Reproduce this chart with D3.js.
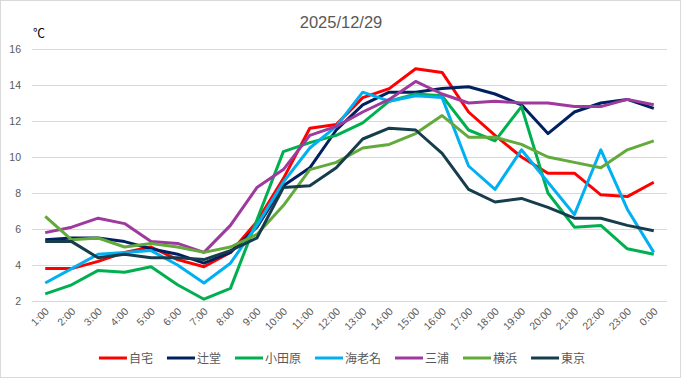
<!DOCTYPE html>
<html>
<head>
<meta charset="utf-8">
<script src="https://cdn.jsdelivr.net/npm/d3@7"></script>
<style>
  html, body { margin: 0; padding: 0; background: #fff; }
  text { font-family: "Liberation Sans", "Noto Sans CJK JP", sans-serif; }
</style>
</head>
<body>
<div id="chart"></div>
<script>
var w = 681, h = 378;

var hours = ["1:00","2:00","3:00","4:00","5:00","6:00","7:00","8:00","9:00","10:00","11:00","12:00",
             "13:00","14:00","15:00","16:00","17:00","18:00","19:00","20:00","21:00","22:00","23:00","0:00"];
var yTicks = [2, 4, 6, 8, 10, 12, 14, 16];

var seriesNames = ["自宅", "辻堂", "小田原", "海老名", "三浦", "横浜", "東京"];

var jitaku    = [3.8, 3.8, 4.2, 4.7, 5.0, 4.3, 3.9, 4.7, 6.4, 8.8, 11.6, 11.8, 13.3, 13.8, 14.9, 14.7, 12.5, 11.2, 10.0, 9.1, 9.1, 7.9, 7.8, 8.6];
var tsujido   = [5.4, 5.5, 5.5, 5.3, 4.9, 4.6, 4.1, 4.7, 6.1, 8.4, 9.4, 11.5, 12.9, 13.6, 13.6, 13.8, 13.9, 13.5, 12.9, 11.3, 12.5, 13.0, 13.2, 12.7];
var odawara   = [2.4, 2.9, 3.7, 3.6, 3.9, 2.9, 2.1, 2.7, 6.5, 10.3, 10.8, 11.2, 11.9, 13.1, 13.5, 13.4, 11.5, 10.9, 12.8, 8.0, 6.1, 6.2, 4.9, 4.6];
var ebina     = [3.0, 3.8, 4.6, 4.7, 4.8, 4.0, 3.0, 4.1, 6.2, 8.6, 10.5, 11.7, 13.6, 13.1, 13.4, 13.3, 9.5, 8.2, 10.4, 8.6, 6.8, 10.4, 7.1, 4.7];
var miura     = [5.8, 6.1, 6.6, 6.3, 5.3, 5.2, 4.7, 6.2, 8.3, 9.3, 11.2, 11.7, 12.5, 13.2, 14.2, 13.5, 13.0, 13.1, 13.0, 13.0, 12.8, 12.8, 13.2, 12.9];
var yokohama  = [6.7, 5.4, 5.5, 5.0, 5.2, 5.0, 4.7, 5.0, 5.7, 7.3, 9.3, 9.7, 10.5, 10.7, 11.3, 12.3, 11.1, 11.1, 10.7, 10.0, 9.7, 9.4, 10.4, 10.9];
var tokyo     = [5.3, 5.3, 4.4, 4.6, 4.4, 4.4, 4.3, 4.8, 5.5, 8.3, 8.4, 9.4, 11.0, 11.6, 11.5, 10.2, 8.2, 7.5, 7.7, 7.2, 6.6, 6.6, 6.2, 5.9];

var seriesValues = [jitaku, tsujido, odawara, ebina, miura, yokohama, tokyo];
var colors = ["#ff0000", "#002060", "#00b050", "#00b0f0", "#9e3a9e", "#62aa3c", "#173d4d"];

var svg = d3.select("#chart")
  .append("svg")
    .attr("width", w)
    .attr("height", h);

// outer frame
svg.append("rect")
  .attr("x", 0.5).attr("y", 0.5)
  .attr("width", w - 1).attr("height", h - 1)
  .attr("fill", "#fff")
  .attr("stroke", "#d9d9d9");

var x = d3.scalePoint().domain(hours).range([32, 667]).padding(0.5);
var y = d3.scaleLinear().domain([2, 16]).range([301, 49]);

// gridlines + y labels
var yAxis = svg.append("g")
  .attr("transform", "translate(32,0)")
  .call(d3.axisLeft(y).tickValues(yTicks).tickSize(-635).tickPadding(11));
yAxis.select(".domain").remove();
yAxis.selectAll("line").attr("stroke", "#d9d9d9");
yAxis.selectAll("text")
  .attr("fill", "#595959")
  .style("font-size", "10.5px");

// x labels
var xAxis = svg.append("g")
  .attr("transform", "translate(0,301)")
  .call(d3.axisBottom(x).tickSize(0).tickPadding(0));
xAxis.select(".domain").remove();
xAxis.selectAll("text")
  .attr("fill", "#595959")
  .style("font-size", "10.5px")
  .attr("text-anchor", "end")
  .attr("dy", null)
  .attr("y", 0)
  .attr("transform", "translate(4,11) rotate(-45)");

// title and unit
svg.append("text")
  .attr("x", 341).attr("y", 28)
  .attr("text-anchor", "middle")
  .attr("fill", "#595959")
  .style("font-size", "16.5px")
  .text("2025/12/29");

svg.append("text")
  .attr("x", 33).attr("y", 38)
  .attr("fill", "#000")
  .style("font-size", "12px")
  .text("℃");

// lines
var line = d3.line()
  .x(function(d, i) { return x(hours[i]); })
  .y(function(d) { return y(d); });

svg.append("g").selectAll("path")
  .data(seriesValues)
  .enter().append("path")
    .attr("d", line)
    .attr("fill", "none")
    .attr("stroke", function(d, i) { return colors[i]; })
    .attr("stroke-width", 3)
    .attr("stroke-linejoin", "round");

// legend
var legend = svg.append("g");
var lx = 0;
seriesNames.forEach(function(name, i) {
  var g = legend.append("g").attr("transform", "translate(" + lx + ",0)");
  g.append("line")
    .attr("x1", 0).attr("x2", 28)
    .attr("y1", 0).attr("y2", 0)
    .attr("stroke", colors[i])
    .attr("stroke-width", 3);
  var t = g.append("text")
    .attr("x", 30).attr("y", 4.5)
    .attr("fill", "#595959")
    .style("font-size", "12px")
    .text(name);
  lx += 30 + t.node().getComputedTextLength() + 14;
});
lx -= 14;
legend.attr("transform", "translate(" + (342 - lx / 2) + ",358)");
</script>
</body>
</html>
